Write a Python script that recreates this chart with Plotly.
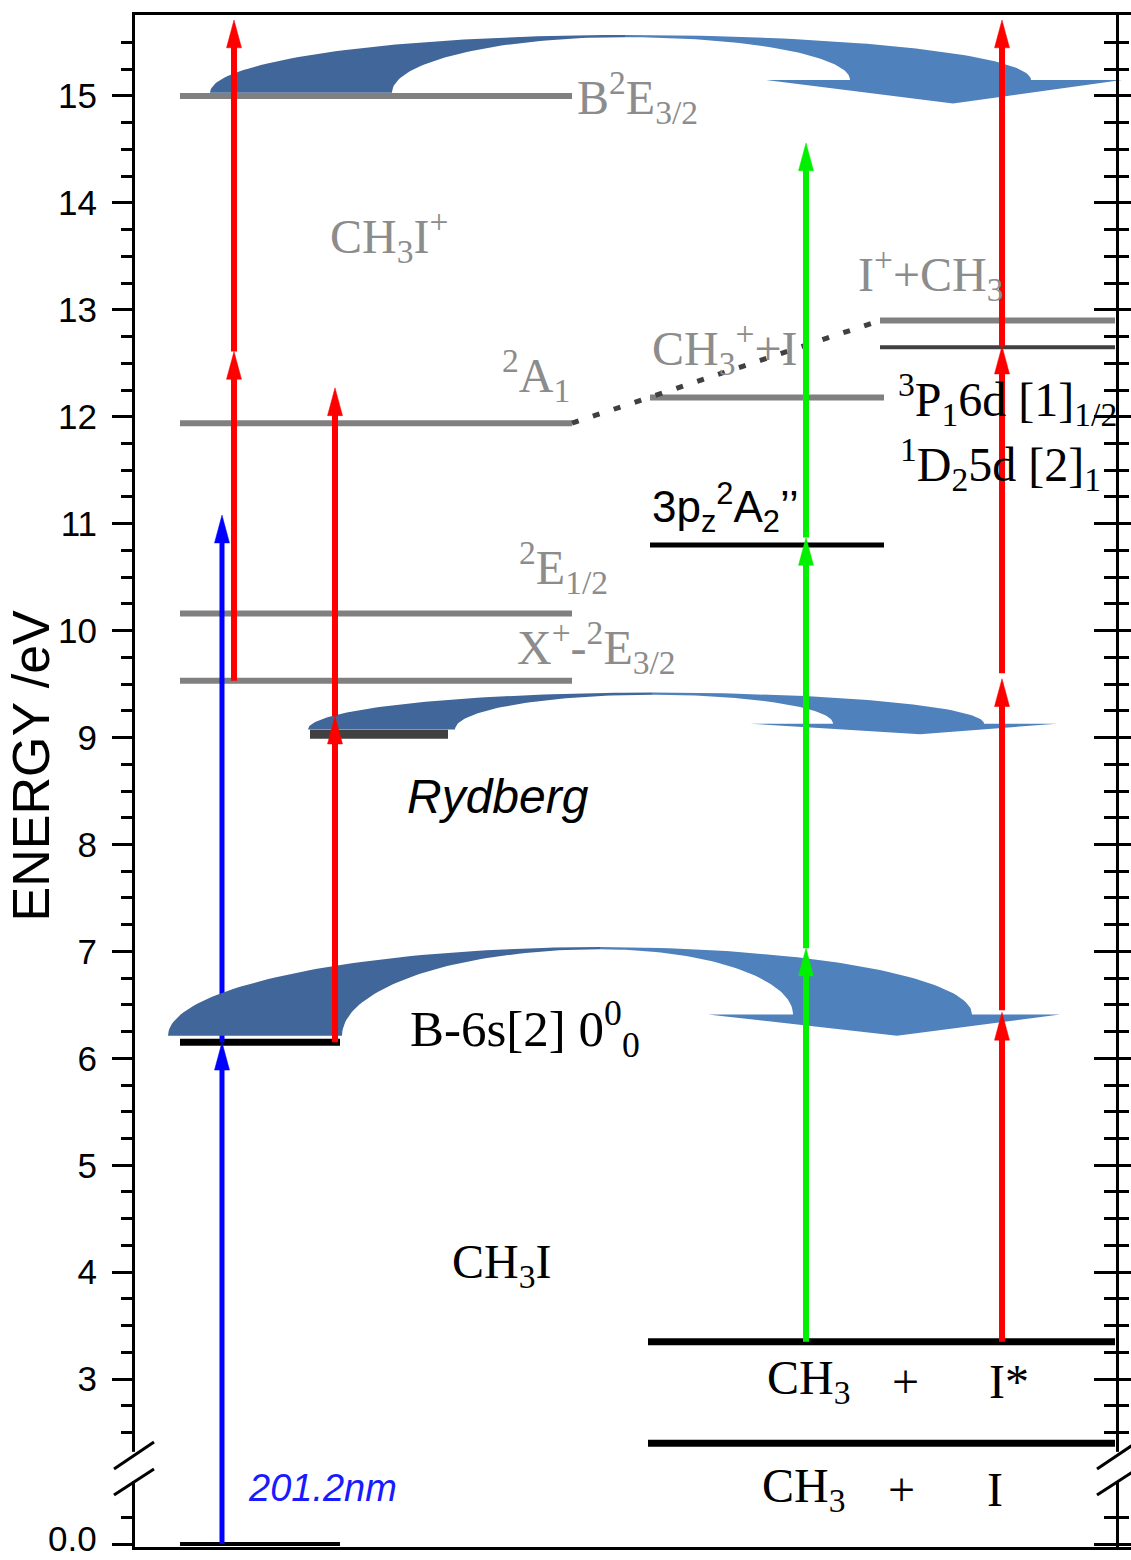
import numpy as np
import plotly.graph_objects as go

# ---------------- data (energies in eV) ----------------
ion_energy = [15.00, 11.94, 10.16, 9.53]      # CH3I+ : B2E3/2, 2A1, 2E1/2, X+ 2E3/2
rydberg_energy = [9.03]                       # Rydberg state
b_state_energy = [6.15]                       # B-6s[2] 0^0_0
ground_energy = [0.0]                         # CH3I ground
frag_ion_energy = [12.18, 12.90]              # CH3+ + I , I+ + CH3
iodine_rydberg_energy = [12.65]               # 3P1 6d [1]1/2 / 1D2 5d [2]1
pz_energy = [10.80]                           # CH3 3pz 2A2''
dissoc_energy = [3.35, 2.40]                  # CH3 + I* , CH3 + I

blue_arrows = [(0.0, 6.15), (6.15, 11.08)]
red_ion_arrows = [(9.53, 12.61), (12.61, 15.71)]
red_ryd_arrows = [(6.15, 9.20), (9.20, 12.27)]
green_arrows = [(3.35, 7.03), (7.03, 10.87), (10.87, 14.56)]
red_frag_arrows = [(3.35, 6.43), (6.45, 9.55), (9.60, 12.66), (12.66, 15.71)]

tick_values = [0, 3, 4, 5, 6, 7, 8, 9, 10, 11, 12, 13, 14, 15]
tick_labels = ["0.0", "3", "4", "5", "6", "7", "8", "9", "10", "11", "12", "13", "14", "15"]

label_texts = [
    "B<sup>2</sup>E<sub>3/2</sub>",
    "CH<sub>3</sub>I<sup>+</sup>",
    "<sup>2</sup>A<sub>1</sub>",
    "<sup>2</sup>E<sub>1/2</sub>",
    "X<sup>+</sup>-<sup>2</sup>E<sub>3/2</sub>",
    "CH<sub>3</sub><sup>+</sup>+I",
    "I<sup>+</sup>+CH<sub>3</sub>",
    "<sup>3</sup>P<sub>1</sub>6d [1]<sub>1/2</sub>",
    "<sup>1</sup>D<sub>2</sub>5d [2]<sub>1</sub>",
    "B-6s[2] 0<sup>0</sup><sub>0</sub>",
    "CH<sub>3</sub>I",
    "CH<sub>3</sub>", "+", "I*",
    "CH<sub>3</sub>", "+", "I",
]

# ---------------- layout constants ----------------
BREAK = 1.458                      # axis coordinate where 0 eV is drawn (broken axis)
Y_RANGE = [1.430, 15.757]
X_RANGE = [135, 1131]
GRAY, DARK, BLACK = "#808080", "#404040", "#000000"
TXT_GRAY = "#8c8c8c"
SERIF = "Liberation Serif"
SANS = "Liberation Sans"
TICK_FONT = dict(family=SANS, size=35, color="black")
PLOT_H = 1560 - 15 - 13


def axv(e):
    return e + BREAK if e < 1.5 else e


def ypaper(v):
    return (v - Y_RANGE[0]) / (Y_RANGE[1] - Y_RANGE[0])


def xpaper(px):
    return (px - X_RANGE[0]) / (X_RANGE[1] - X_RANGE[0])


COL_ION = (180, 572)
COL_RYD = (310, 448)
COL_B = (180, 340)
COL_FRAG = (650, 884)
COL_IR = (880, 1115)
COL_DIS = (648, 1115)

X_BLUE, X_RED_ION, X_RED_RYD, X_GREEN, X_RED_FRAG = 222, 234, 335, 806, 1002

fig = go.Figure()


def level_trace(energies, col, color, width):
    xs, ys = [], []
    for e in energies:
        xs += [col[0], col[1], None]
        ys += [axv(e), axv(e), None]
    fig.add_trace(go.Scatter(x=xs, y=ys, mode="lines", line=dict(color=color, width=width),
                             hoverinfo="skip", showlegend=False))


level_trace(ion_energy, COL_ION, GRAY, 6)
level_trace(frag_ion_energy[:1], COL_FRAG, GRAY, 6)
level_trace(frag_ion_energy[1:], COL_IR, GRAY, 6)
level_trace(iodine_rydberg_energy, COL_IR, DARK, 4)
level_trace(rydberg_energy, COL_RYD, DARK, 9)
level_trace(b_state_energy, COL_B, BLACK, 7)
level_trace(ground_energy, COL_B, BLACK, 4)
level_trace(pz_energy, COL_FRAG, BLACK, 5)
level_trace(dissoc_energy, COL_DIS, BLACK, 7)

# dotted correlation line 2A1 -> I+ + CH3
fig.add_trace(go.Scatter(x=[COL_ION[1], COL_IR[0]], y=[ion_energy[1], frag_ion_energy[1]],
                         mode="lines", line=dict(color=DARK, width=5, dash="7px,15px"),
                         hoverinfo="skip", showlegend=False))

HEAD_L = 0.26   # eV
HEAD_W = 7.5    # half width (x units)


def arrows(x, segs, color, width):
    sx, sy, hx, hy = [], [], [], []
    for a, b in segs:
        a, b = axv(a), axv(b)
        sx += [x, x, None]
        sy += [a, b - HEAD_L * 0.7, None]
        hx += [x - HEAD_W, x + HEAD_W, x, x - HEAD_W, None]
        hy += [b - HEAD_L, b - HEAD_L, b, b - HEAD_L, None]
    fig.add_trace(go.Scatter(x=sx, y=sy, mode="lines", line=dict(color=color, width=width),
                             hoverinfo="skip", showlegend=False))
    fig.add_trace(go.Scatter(x=hx, y=hy, mode="lines", fill="toself", fillcolor=color,
                             line=dict(color=color, width=0.5), hoverinfo="skip", showlegend=False))


# blue excitation drawn beneath the swooshes
arrows(X_BLUE, blue_arrows, "#0000ff", 5)


def swoosh(base_y, x_left, x_inner, peak_x, peak_y, barb_y, neck_in, neck_out,
           barb_l, barb_r, tip_x, tip_y, gap=0.02, n=60):
    t = np.linspace(0, np.pi / 2, n)
    ox = peak_x - (peak_x - x_left) * np.cos(t)
    oy = base_y + (peak_y - base_y) * np.sin(t)
    ix = peak_x - (peak_x - x_inner) * np.cos(t[::-1])
    iy = base_y + (peak_y - gap - base_y) * np.sin(t[::-1])
    lx = list(ox) + list(ix)
    ly = list(oy) + list(iy)
    rox = peak_x + (neck_out - peak_x) * np.sin(t)
    roy = barb_y + (peak_y - barb_y) * np.cos(t)
    rix = peak_x + (neck_in - peak_x) * np.sin(t[::-1])
    riy = barb_y + (peak_y - gap - barb_y) * np.cos(t[::-1])
    rx = list(rox) + [barb_r, tip_x, barb_l] + list(rix)
    ry = list(roy) + [barb_y, tip_y, barb_y] + list(riy)
    fig.add_trace(go.Scatter(x=rx, y=ry, mode="lines", fill="toself", fillcolor="#4f81bd",
                             line=dict(width=0, color="#4f81bd"), hoverinfo="skip", showlegend=False))
    fig.add_trace(go.Scatter(x=lx, y=ly, mode="lines", fill="toself", fillcolor="#41669a",
                             line=dict(width=0, color="#41669a"), hoverinfo="skip", showlegend=False))


# swooshes (energy transfer arrows) placed relative to the levels
swoosh(ion_energy[0] + 0.03, 210, 392, 625, 15.57, 15.15, 850, 1031, 766, 1122, 953, 14.93)
swoosh(rydberg_energy[0] + 0.045, 308, 455, 652, 9.42, 9.13, 833, 984, 750, 1057, 920, 9.03)
swoosh(b_state_energy[0] + 0.06, 168, 342, 600, 7.04, 6.41, 793, 972, 708, 1060, 897, 6.21)

arrows(X_RED_ION, red_ion_arrows, "#ff0000", 6)
arrows(X_RED_RYD, red_ryd_arrows, "#ff0000", 6)
arrows(X_GREEN, green_arrows, "#00f000", 6)
arrows(X_RED_FRAG, red_frag_arrows, "#ff0000", 6)

# dummy traces so that right-hand axes exist
fig.add_trace(go.Scatter(x=[None], y=[None], yaxis="y2", showlegend=False, hoverinfo="skip"))
fig.add_trace(go.Scatter(x=[None], y=[None], yaxis="y3", showlegend=False, hoverinfo="skip"))

# ---------------- labels ----------------
label_pos = [
    (575, 14.99, TXT_GRAY, SERIF, 48), (328, 13.69, TXT_GRAY, SERIF, 48), (500, 12.39, TXT_GRAY, SERIF, 48),
    (517, 10.59, TXT_GRAY, SERIF, 48), (515, 9.84, TXT_GRAY, SERIF, 48), (650, 12.64, TXT_GRAY, SERIF, 48),
    (856, 13.33, TXT_GRAY, SERIF, 48), (896, 12.16, BLACK, SERIF, 48), (898, 11.55, BLACK, SERIF, 48),
    (408, 6.27, BLACK, SERIF, 51), (450, 4.07, BLACK, SERIF, 48),
    (765, 2.98, BLACK, SERIF, 48), (890, 2.98, BLACK, SERIF, 48), (987, 2.98, BLACK, SERIF, 48),
    (760, 1.97, BLACK, SERIF, 48), (886, 1.97, BLACK, SERIF, 48), (985, 1.97, BLACK, SERIF, 48),
]
annotations = []
for txt, (x, y, c, f, s) in zip(label_texts, label_pos):
    annotations.append(dict(x=x, y=y, xref="x", yref="y", text=txt, showarrow=False,
                            xanchor="left", yanchor="middle", font=dict(family=f, size=s, color=c)))
annotations.append(dict(x=650, y=11.15, xref="x", yref="y",
                        text="3p<sub>z</sub><sup>2</sup>A<sub>2</sub>’’", showarrow=False,
                        xanchor="left", yanchor="middle", font=dict(family=SANS, size=44, color=BLACK)))
annotations.append(dict(x=405, y=8.45, xref="x", yref="y", text="<i>Rydberg</i>", showarrow=False,
                        xanchor="left", yanchor="middle", font=dict(family=SANS, size=48, color=BLACK)))
annotations.append(dict(x=246, y=1.98, xref="x", yref="y", text="<i>201.2nm</i>", showarrow=False,
                        xanchor="left", yanchor="middle", font=dict(family=SANS, size=38, color="#1a1aff")))
annotations.append(dict(x=xpaper(31), y=8.73, xref="paper", yref="y", text="ENERGY /eV",
                        textangle=-90, showarrow=False, xanchor="center", yanchor="middle",
                        font=dict(family=SANS, size=52, color=BLACK)))
# the "0.0" tick label sits at the very bottom edge; drawn as an annotation anchored to the page bottom
annotations.append(dict(x=xpaper(99), y=-13 / PLOT_H, xref="paper", yref="paper",
                        text=tick_labels[0], showarrow=False, xanchor="right", yanchor="bottom",
                        font=TICK_FONT))

# ---------------- axis break markers ----------------
shapes = []
for ax_px in (134, 1117):
    shapes.append(dict(type="rect", xref="paper", yref="paper",
                       x0=xpaper(ax_px - 4), x1=xpaper(ax_px + 4),
                       y0=ypaper(2.045), y1=ypaper(2.32), fillcolor="white", line=dict(width=0),
                       layer="above"))
    for lo, hi in ((2.159, 2.411), (1.916, 2.159)):
        shapes.append(dict(type="line", xref="paper", yref="paper",
                           x0=xpaper(ax_px - 20), y0=ypaper(lo), x1=xpaper(ax_px + 20), y1=ypaper(hi),
                           line=dict(color="black", width=3), layer="above"))

major_axis = [axv(v) for v in tick_values]
minor_axis = [axv(0.25)] + [v for v in np.arange(2.5, 15.6, 0.25) if abs(v - round(v)) > 1e-6]

common = dict(range=Y_RANGE, showgrid=False, zeroline=False, tickmode="array",
              tickvals=major_axis, showline=True, linecolor="black", linewidth=3,
              tickcolor="black", tickwidth=3)

fig.update_layout(
    width=1131, height=1560,
    margin=dict(l=135, r=0, t=15, b=13),
    paper_bgcolor="white", plot_bgcolor="white",
    xaxis=dict(range=X_RANGE, showgrid=False, zeroline=False, showticklabels=False, ticks="",
               showline=True, mirror=True, linecolor="black", linewidth=3),
    yaxis=dict(**common, ticktext=[""] + tick_labels[1:], ticks="outside", ticklen=20,
               ticklabelstandoff=8, tickfont=TICK_FONT,
               minor=dict(tickmode="array", tickvals=minor_axis, ticks="outside", ticklen=11,
                          tickwidth=3, tickcolor="black")),
    yaxis2=dict(**common, overlaying="y", side="right", anchor="free",
                position=xpaper(1117), showticklabels=False, ticks="outside", ticklen=13,
                minor=dict(tickmode="array", tickvals=minor_axis, ticks="outside", ticklen=10,
                           tickwidth=3, tickcolor="black")),
    yaxis3=dict(**common, overlaying="y", side="right", anchor="free",
                position=xpaper(1117), showticklabels=False, ticks="inside", ticklen=22,
                minor=dict(tickmode="array", tickvals=minor_axis, ticks="inside", ticklen=12,
                           tickwidth=3, tickcolor="black")),
    annotations=annotations,
    shapes=shapes,
)

fig.write_html("out.html", config={"displayModeBar": False},
               post_script="document.body.style.margin='0';")
